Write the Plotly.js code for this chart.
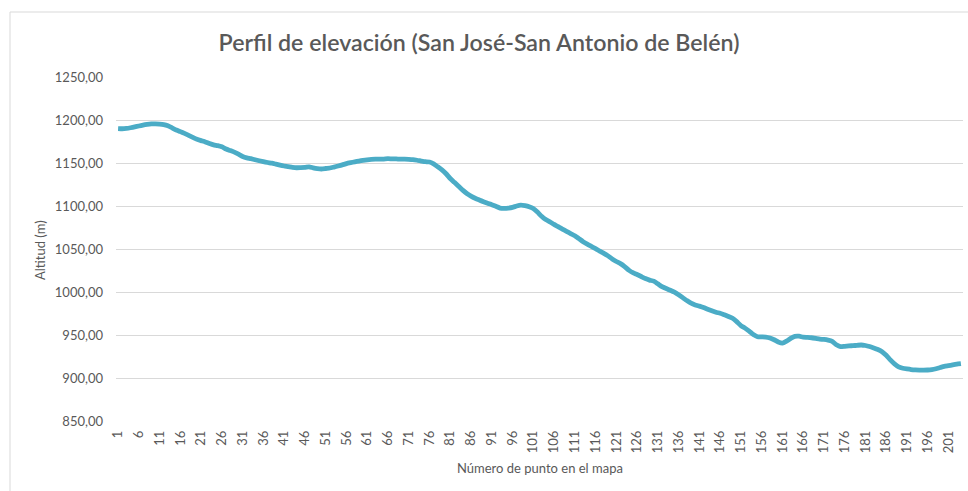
<!DOCTYPE html>
<html>
<head>
<meta charset="utf-8">
<script src="https://cdn.plot.ly/plotly-3.0.1.min.js"></script>
<style>
html,body{margin:0;padding:0;background:#fff;}
#chart{width:968px;height:491px;}
</style>
</head>
<body>
<div id="chart"></div>
<script>
// Punto en el mapa (1..204)
var puntos = [];
for (var k = 1; k <= 204; k++) puntos.push(k);

// Altitud (m)
var altitud = [
1190.0,1189.8,1190.2,1191.0,1192.0,1193.0,1194.0,1194.8,1195.4,1195.6,
1195.3,1194.6,1193.2,1190.9,1188.4,1186.5,1184.4,1182.2,1179.8,1177.6,
1176.0,1174.5,1172.6,1171.0,1170.2,1168.8,1166.3,1164.5,1162.6,1160.2,
1157.6,1156.0,1155.0,1153.8,1152.6,1151.6,1150.6,1149.8,1148.7,1147.5,
1146.5,1145.8,1145.0,1144.5,1144.6,1144.8,1145.6,1144.3,1143.4,1143.0,
1143.6,1144.2,1145.3,1146.5,1147.8,1149.3,1150.4,1151.4,1152.3,1153.0,
1153.7,1154.2,1154.4,1154.5,1154.6,1155.0,1154.8,1154.7,1154.5,1154.6,
1154.3,1153.9,1153.2,1152.3,1151.5,1151.2,1149.0,1145.6,1142.0,1137.5,
1132.0,1127.5,1123.0,1118.5,1114.6,1111.5,1109.0,1107.0,1105.0,1103.2,
1101.5,1099.6,1097.6,1097.3,1097.6,1098.4,1100.0,1101.0,1100.4,1099.2,
1097.0,1093.0,1088.0,1084.2,1081.5,1078.6,1076.0,1073.2,1070.6,1068.0,
1065.5,1062.0,1058.5,1055.6,1053.0,1050.5,1047.6,1045.0,1042.0,1038.5,
1035.5,1033.0,1029.6,1025.5,1022.4,1020.3,1018.0,1015.6,1013.8,1012.6,
1009.5,1006.2,1004.0,1002.0,999.8,996.8,993.5,990.0,987.0,985.0,
983.6,982.0,980.0,978.2,976.5,975.3,973.5,971.6,969.4,965.5,
961.0,958.0,954.5,950.5,948.0,947.8,947.6,946.5,944.5,941.8,
940.5,942.8,946.0,948.4,948.6,947.5,947.2,946.8,946.0,945.2,
944.8,944.0,942.5,938.6,936.4,936.8,937.3,937.6,938.0,938.4,
937.8,936.6,935.0,933.2,930.6,926.5,921.0,916.5,913.0,911.4,
910.5,909.8,909.4,909.2,909.2,909.3,909.8,910.8,912.2,913.5,
914.3,915.2,916.0,916.6
];

// Etiquetas del eje X (cada 5 puntos)
var xTicks = [1,6,11,16,21,26,31,36,41,46,51,56,61,66,71,76,81,86,91,96,
101,106,111,116,121,126,131,136,141,146,151,156,161,166,171,176,181,186,191,196,201];
var yTicks = [850,900,950,1000,1050,1100,1150,1200,1250];

var tituloGrafico = "Perfil de elevación (San José-San Antonio de Belén)";
var tituloX = "Número de punto en el mapa";
var tituloY = "Altitud (m)";

var W = 968, H = 491;
var L = 116, R = 5, T = 77, B = 70;
var pw = W - L - R, ph = H - T - B;
function px2x(px){ return (px - L) / pw; }
function py2y(py){ return (H - B - py) / ph; }

var gray = "#595959";
var font = "Lato, 'Open Sans', sans-serif";

var trace = {
  x: puntos,
  y: altitud,
  type: "scatter",
  mode: "lines",
  line: {color: "#4BACC6", width: 4.8, shape: "spline", smoothing: 0.5},
  hoverinfo: "x+y",
  showlegend: false
};

var layout = {
  width: W, height: H,
  margin: {l: L, r: R, t: T, b: B, pad: 0},
  paper_bgcolor: "#ffffff",
  plot_bgcolor: "#ffffff",
  separators: ",.",
  font: {family: font, color: gray, size: 13},
  title: {
    text: tituloGrafico,
    font: {family: font, size: 23.2, color: gray, weight: 600},
    x: 479 / W, xref: "container", xanchor: "center",
    y: 1 - 43 / H, yref: "container", yanchor: "middle"
  },
  xaxis: {
    range: [0.5, 204.5],
    tickmode: "array",
    tickvals: xTicks,
    ticktext: xTicks.map(String),
    tickangle: -90,
    ticks: "",
    showgrid: false,
    zeroline: false,
    showline: false,
    tickfont: {family: font, size: 13, color: gray},
    ticklabelstandoff: 6,
    fixedrange: true
  },
  yaxis: {
    range: [850, 1250],
    tickmode: "array",
    tickvals: yTicks,
    tickformat: ".2f",
    ticks: "",
    showgrid: true,
    gridcolor: "#D9D9D9",
    gridwidth: 1,
    zeroline: false,
    showline: false,
    tickfont: {family: font, size: 13, color: gray},
    ticklabelstandoff: 12,
    fixedrange: true
  },
  shapes: [
    {type: "rect", xref: "paper", yref: "paper",
     x0: px2x(10), x1: px2x(975), y0: py2y(500), y1: py2y(12),
     line: {color: "#D9D9D9", width: 1}, fillcolor: "rgba(0,0,0,0)", layer: "below"}
  ],
  annotations: [
    {text: tituloX, xref: "paper", yref: "paper", x: px2x(540), y: py2y(468),
     xanchor: "center", yanchor: "middle", showarrow: false,
     font: {family: font, size: 13, color: gray}},
    {text: tituloY, xref: "paper", yref: "paper", x: px2x(40), y: py2y(250),
     xanchor: "center", yanchor: "middle", textangle: -90, showarrow: false,
     font: {family: font, size: 13, color: gray}}
  ]
};

Plotly.newPlot("chart", [trace], layout, {displayModeBar: false, staticPlot: true});
</script>
</body>
</html>
